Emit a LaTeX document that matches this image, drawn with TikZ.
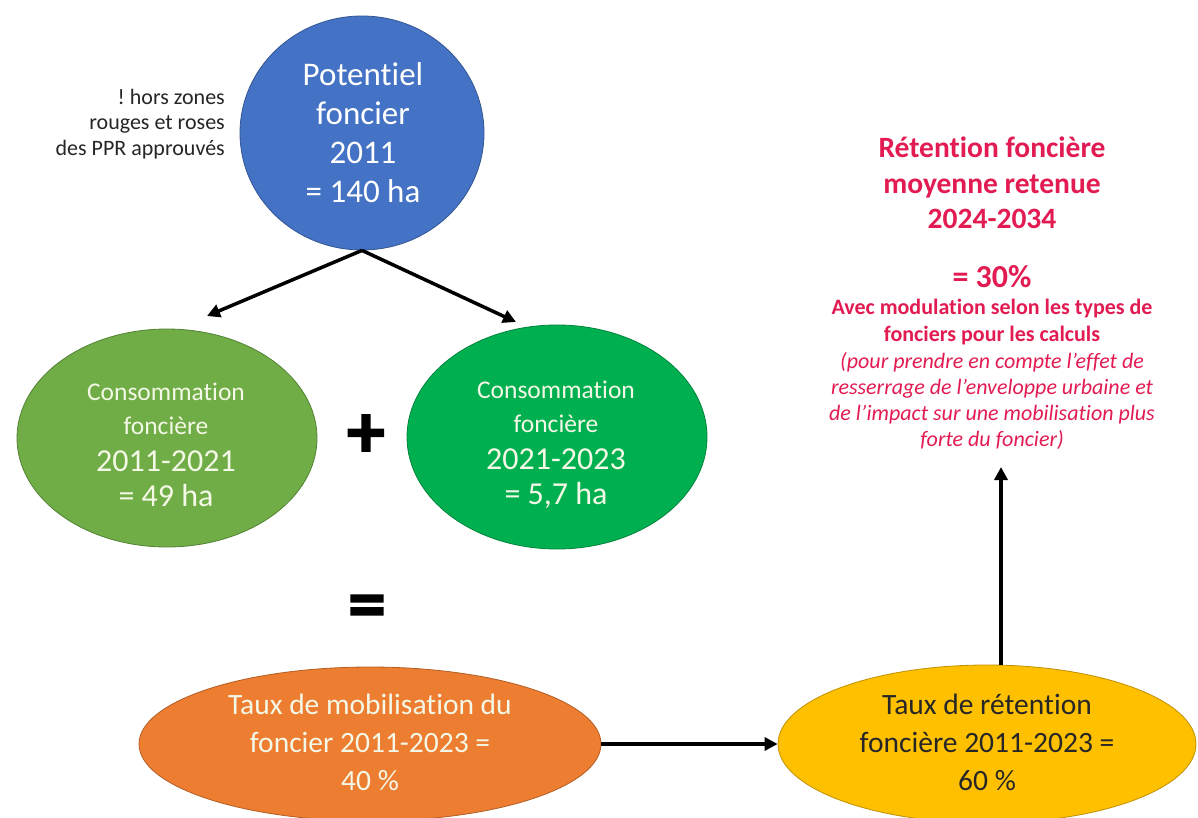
\documentclass[tikz,border=0pt]{standalone}
\usepackage{fontspec}
\setmainfont{Carlito}[Ligatures=NoCommon]
\newfontfamily\opfont{Carlito}[BoldFeatures={FakeBold=2}]
\usetikzlibrary{shapes.geometric,arrows.meta}
\frenchspacing
\definecolor{cblue}{HTML}{4472C4}
\definecolor{cgreenA}{HTML}{70AD47}
\definecolor{cgreenB}{HTML}{00B050}
\definecolor{corange}{HTML}{ED7D31}
\definecolor{cyellow}{HTML}{FFC000}
\definecolor{cred}{HTML}{E21C52}
\definecolor{cdark}{HTML}{262626}
\definecolor{ccream}{HTML}{F4F8E6}
\begin{document}
\begin{tikzpicture}[x=1pt,y=-1pt,
  blob/.style={ellipse, draw=#1!75!black, fill=#1, line width=0.8pt, inner sep=0pt},
  txt/.style={align=center, inner sep=0pt, text=white},
  arr/.style={line width=3.5pt, draw=black, -{Triangle[length=13pt,width=13pt]}},
  redtxt/.style={align=center, inner sep=0pt, text=cred},
  opsign/.style={inner sep=0pt, font=\fontsize{76}{76}\selectfont\opfont\bfseries}]
\useasboundingbox (0,0) rectangle (1198,818);
\fill[white] (0,0) rectangle (1198,818);

% top circle
\node[blob=cblue, minimum width=244pt, minimum height=234pt] (pot) at (362,133) {};
\node[txt, font=\fontsize{33}{39}\selectfont] (pott) at (363,133) {Potentiel\\foncier\\2011\\= 140 ha};

% note
\node[align=right, inner sep=0pt, text=black!85, font=\fontsize{22}{25.5}\selectfont, anchor=east] (note) at (225,124) {! hors zones\\rouges et roses\\des PPR approuvés};

% green circles
\node[blob=cgreenA, minimum width=300pt, minimum height=218pt] (c1) at (167,438) {};
\node[blob=cgreenB, minimum width=300pt, minimum height=224pt] (c2) at (557,437) {};
\node[txt, text=ccream, font=\fontsize{25.5}{34}\selectfont] (c1t) at (166,445) {Consommation\\foncière\\[3pt]{\fontsize{32}{36}\selectfont 2011-2021}\\[1pt]{\fontsize{32}{36}\selectfont = 49 ha}};
\node[txt, text=ccream, font=\fontsize{25.5}{34}\selectfont] (c2t) at (556,445) {Consommation\\foncière\\[3pt]{\fontsize{32}{36}\selectfont 2021-2023}\\[1pt]{\fontsize{32}{36}\selectfont = 5,7 ha}};

% operators
\node[opsign] (plus) at (366,436) {+};
\node[opsign] (eq) at (367,612) {=};

% bottom ellipses
\node[blob=corange, minimum width=462pt, minimum height=154pt] (mob) at (370,744) {};
\node[txt, text=ccream, font=\fontsize{29.5}{38}\selectfont] (mobt) at (370,742) {Taux de mobilisation du\\foncier 2011-2023 =\\40 \%};
\node[blob=cyellow, minimum width=418pt, minimum height=158pt] (ret) at (987,744) {};
\node[txt, text=cdark, font=\fontsize{29.5}{38}\selectfont] (rett) at (987,742) {Taux de rétention\\foncière 2011-2023 =\\60 \%};

% red text
\node[redtxt, font=\fontsize{29.5}{35.5}\selectfont\bfseries] (rtitle) at (992,183) {Rétention foncière\\moyenne retenue\\2024-2034};
\node[redtxt, font=\fontsize{32}{34}\selectfont\bfseries] (rval) at (992,277) {= 30\%};
\node[redtxt, font=\fontsize{22}{26.5}\selectfont\bfseries] (rmod) at (992,322) {Avec modulation selon les types de\\fonciers pour les calculs};
\node[redtxt, font=\fontsize{22}{26.3}\selectfont\itshape] (rnote) at (992,401) {(pour prendre en compte l’effet de\\resserrage de l’enveloppe urbaine et\\de l’impact sur une mobilisation plus\\forte du foncier)};

% connectors
\coordinate (aL) at (207,316);
\coordinate (aR) at (516,322);
\coordinate (upend) at (1001,467);
\draw[arr] (pot.south) -- (aL);
\draw[arr] (pot.south) -- (aR);
\draw[arr] (mob.east) -- (ret.west);
\draw[arr] (upend |- ret.north) -- (upend);
\end{tikzpicture}
\end{document}
